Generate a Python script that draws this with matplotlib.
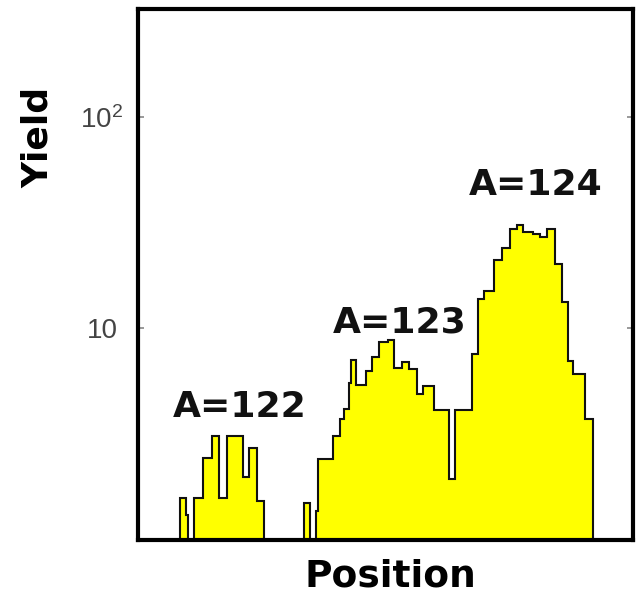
import numpy as np
import matplotlib
matplotlib.use("Agg")
import matplotlib.pyplot as plt
from matplotlib.ticker import FixedLocator, FixedFormatter, NullLocator

# ---- data ----
bin_edges = [8.5, 9.7, 10.1, 11.3, 13.1, 15.0, 16.4, 18.0, 21.2, 22.4, 24.0, 25.5,
             33.5, 34.8, 36.0, 36.4, 39.4, 40.8, 41.6, 42.6, 43.0, 44.0, 46.1,
             47.3, 48.7, 50.5, 51.7, 53.3, 54.8, 56.4, 57.6, 59.8, 62.8, 64.0,
             67.5, 68.7, 69.9, 71.9, 73.5, 75.2, 76.6, 77.8, 79.8, 81.2, 82.6,
             84.2, 85.7, 86.9, 87.9, 90.3, 91.9]
yields = [1.56, 1.30, 0, 1.56, 2.42, 3.08, 1.56, 3.08, 1.97, 2.70, 1.51,
          0, 1.48, 0, 1.36, 2.39, 3.08, 3.70, 4.13, 5.49, 7.05, 5.37, 6.26,
          7.29, 8.58, 8.77, 6.46, 6.90, 6.39, 4.87, 5.31, 4.09, 1.92, 4.09,
          7.53, 13.7, 15.0, 21.0, 23.9, 29.5, 30.8, 28.5, 27.9, 27.0, 29.5,
          20.1, 13.3, 6.98, 6.05, 3.70]
peak_labels = ["A=122", "A=123", "A=124"]
peak_x = [20.6, 52.9, 80.4]
peak_y = [3.79, 9.57, 42.7]
ytick_values = [10, 100]
ytick_labels = ["10", r"$\mathregular{10^2}$"]

plt.rcParams["mathtext.fontset"] = "custom"
plt.rcParams["mathtext.rm"] = "Liberation Sans"

fig = plt.figure(figsize=(6.42, 5.96), dpi=100)
ax = fig.add_axes([138 / 642, 1 - 540 / 596, 495 / 642, 531 / 596])

ax.set_yscale("log")
ax.set_xlim(0, 100)
ax.set_ylim(0.99, 325)

base = 0.1
vals = np.where(np.array(yields) > 0, yields, base)
ax.stairs(vals, bin_edges, baseline=base, fill=True,
          facecolor="#ffff00", edgecolor="none")
ax.stairs(vals, bin_edges, baseline=base, fill=False,
          edgecolor="#111111", linewidth=1.5)

for lab, x, y in zip(peak_labels, peak_x, peak_y):
    ax.text(x, y, lab, ha="center", va="baseline", fontsize=26,
            fontweight="bold", color="#111111", family="DejaVu Sans")

ax.xaxis.set_major_locator(NullLocator())
ax.xaxis.set_minor_locator(NullLocator())
ax.yaxis.set_major_locator(FixedLocator(ytick_values))
ax.yaxis.set_major_formatter(FixedFormatter(ytick_labels))
ax.yaxis.set_minor_locator(NullLocator())
ax.tick_params(axis="y", which="major", direction="in", length=4, width=1.2,
               color="#888888", left=True, right=True, pad=26,
               labelsize=20, labelcolor="#444444")
for t in ax.get_yticklabels():
    t.set_family("Liberation Sans")
    t.set_ha("center")

for s in ax.spines.values():
    s.set_linewidth(3)
    s.set_color("black")

ax.set_xlabel("Position", fontsize=27, fontweight="bold", family="DejaVu Sans")
ax.xaxis.label.set_va("center")
ax.xaxis.set_label_coords(0.509, -0.068)
ax.set_ylabel("Yield", fontsize=26, fontweight="bold", family="DejaVu Sans")
ax.yaxis.label.set_va("center")
ax.yaxis.set_label_coords(-0.202, 0.759)

fig.savefig("out.png", dpi=100)
